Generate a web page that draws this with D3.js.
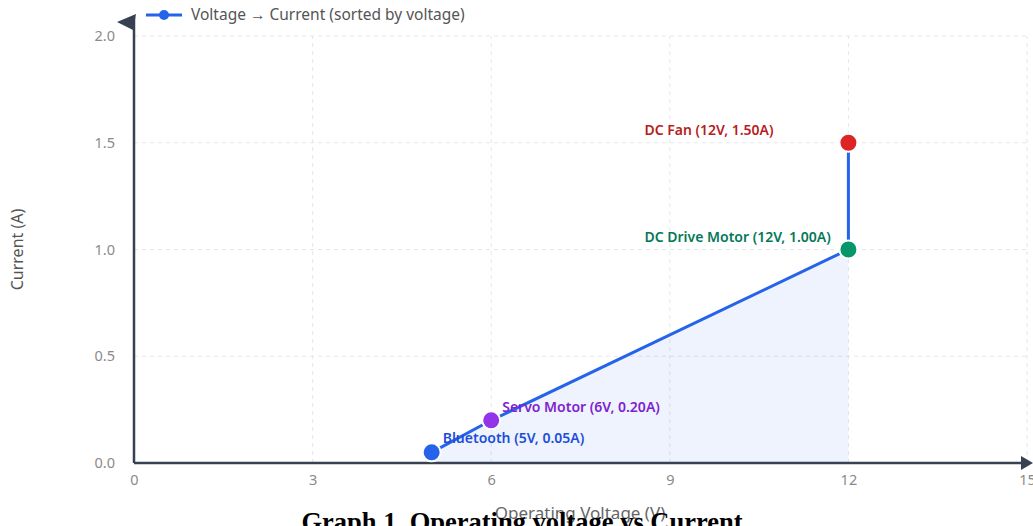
<!DOCTYPE html>
<html>
<head>
<meta charset="utf-8">
<script src="https://cdn.jsdelivr.net/npm/d3@7/dist/d3.min.js"></script>
<style>
  html, body { margin: 0; padding: 0; background: #fff; }
  svg { display: block; font-family: "Noto Sans", "Open Sans", sans-serif; }
</style>
</head>
<body>
<svg id="chart" width="1033" height="526"></svg>
<script>
'use strict';

// components, sorted by voltage
var devices = ['Bluetooth', 'Servo Motor', 'DC Drive Motor', 'DC Fan'];
var voltages = [5, 6, 12, 12];
var currents = [0.05, 0.20, 1.00, 1.50];
var colors = ['#2563eb', '#9333ea', '#059669', '#dc2626'];
var labelColors = ['#1d4ed8', '#7e22ce', '#047857', '#b91c1c'];
var xTicks = [0, 3, 6, 9, 12, 15];
var yTicks = [0, 0.5, 1.0, 1.5, 2.0];

var svg = d3.select('#chart');

var x = d3.scaleLinear().domain([0, 15]).range([134, 1027]);
var y = d3.scaleLinear().domain([0, 2]).range([463, 36]);

var points = devices.map(function (name, i) {
    return {name: name, v: voltages[i], a: currents[i], color: colors[i], labelColor: labelColors[i]};
});

// grid
svg.append('g')
    .selectAll('line.hgrid')
    .data(yTicks.slice(1))
    .enter()
    .append('line')
    .attr('x1', x(0))
    .attr('x2', x(15))
    .attr('y1', function (d) { return y(d); })
    .attr('y2', function (d) { return y(d); })
    .attr('stroke', '#e5e7eb')
    .attr('stroke-width', 1)
    .attr('stroke-dasharray', '4,4');

svg.append('g')
    .selectAll('line.vgrid')
    .data(xTicks.slice(1))
    .enter()
    .append('line')
    .attr('x1', function (d) { return x(d); })
    .attr('x2', function (d) { return x(d); })
    .attr('y1', y(0))
    .attr('y2', y(2))
    .attr('stroke', '#e5e7eb')
    .attr('stroke-width', 1)
    .attr('stroke-dasharray', '4,4');

// area under line
var area = d3.area()
    .x(function (d) { return x(d.v); })
    .y0(y(0))
    .y1(function (d) { return y(d.a); });

svg.append('path')
    .datum(points.slice(0, 3))
    .attr('d', area)
    .attr('fill', '#2563eb')
    .attr('fill-opacity', 0.08);

// axes
var xAxis = d3.axisBottom(x).tickValues(xTicks).tickSize(0).tickPadding(12)
    .tickFormat(d3.format('d'));
var yAxis = d3.axisLeft(y).tickValues(yTicks).tickSize(0).tickPadding(19)
    .tickFormat(d3.format('.1f'));

var gx = svg.append('g').attr('transform', 'translate(0,' + y(0) + ')').call(xAxis);
var gy = svg.append('g').attr('transform', 'translate(' + x(0) + ',0)').call(yAxis);

[gx, gy].forEach(function (g) {
    g.select('.domain').remove();
    g.selectAll('text')
        .attr('fill', '#8a8a8a')
        .style('font-size', '14.5px')
        .style('font-family', '"Noto Sans", sans-serif');
});

// axis lines with arrows
svg.append('line')
    .attr('x1', x(0)).attr('x2', 1024)
    .attr('y1', y(0)).attr('y2', y(0))
    .attr('stroke', '#374151').attr('stroke-width', 2.5);
svg.append('path')
    .attr('d', 'M1021,456 L1033,463 L1021,470 Z')
    .attr('fill', '#374151');

svg.append('line')
    .attr('x1', x(0)).attr('x2', x(0))
    .attr('y1', y(0)).attr('y2', 17)
    .attr('stroke', '#374151').attr('stroke-width', 2.5);
svg.append('path')
    .attr('d', 'M117,22 L136,14 L133,30 Z')
    .attr('fill', '#374151');

// line
var line = d3.line()
    .x(function (d) { return x(d.v); })
    .y(function (d) { return y(d.a); });

svg.append('path')
    .datum(points)
    .attr('d', line)
    .attr('fill', 'none')
    .attr('stroke', '#2563eb')
    .attr('stroke-width', 3);

// points
svg.append('g')
    .selectAll('circle')
    .data(points)
    .enter()
    .append('circle')
    .attr('cx', function (d) { return x(d.v); })
    .attr('cy', function (d) { return y(d.a); })
    .attr('r', 9)
    .attr('fill', function (d) { return d.color; })
    .attr('stroke', '#ffffff')
    .attr('stroke-width', 2);

// labels
var labelOffsets = [
    {dx: 11, dy: -9},
    {dx: 11, dy: -8},
    {dx: -204, dy: -8},
    {dx: -204, dy: -8}
];

svg.append('g')
    .selectAll('text')
    .data(points)
    .enter()
    .append('text')
    .attr('x', function (d, i) { return x(d.v) + labelOffsets[i].dx; })
    .attr('y', function (d, i) { return y(d.a) + labelOffsets[i].dy; })
    .attr('fill', function (d) { return d.labelColor; })
    .style('font-size', '14px')
    .style('font-weight', 600)
    .text(function (d) {
        return d.name + ' (' + d.v + 'V, ' + d.a.toFixed(2) + 'A)';
    });

// legend
var legend = svg.append('g');
legend.append('line')
    .attr('x1', 146).attr('x2', 182)
    .attr('y1', 15).attr('y2', 15)
    .attr('stroke', '#2563eb').attr('stroke-width', 3);
legend.append('circle')
    .attr('cx', 164).attr('cy', 15).attr('r', 5)
    .attr('fill', '#2563eb');
legend.append('text')
    .attr('x', 191).attr('y', 20)
    .attr('fill', '#555')
    .style('font-size', '15.5px')
    .text('Voltage \u2192 Current (sorted by voltage)');

// axis titles
svg.append('text')
    .attr('transform', 'translate(23,' + y(1) + ') rotate(-90)')
    .attr('text-anchor', 'middle')
    .attr('fill', '#555')
    .style('font-size', '16px')
    .text('Current (A)');

svg.append('text')
    .attr('x', 580).attr('y', 519)
    .attr('text-anchor', 'middle')
    .attr('fill', '#666')
    .style('font-size', '17px')
    .text('Operating Voltage (V)');

// caption
svg.append('text')
    .attr('x', 522).attr('y', 531)
    .attr('text-anchor', 'middle')
    .attr('fill', '#000')
    .style('font-family', '"Liberation Serif", "Times New Roman", serif')
    .style('font-size', '26.5px')
    .style('font-weight', 'bold')
    .text('Graph 1. Operating voltage vs Current');
</script>
</body>
</html>
